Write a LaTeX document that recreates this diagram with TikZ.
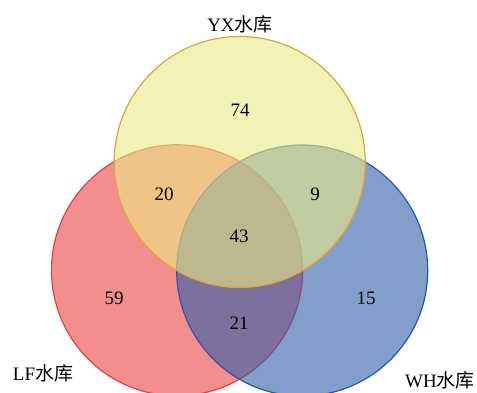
\documentclass[tikz,border=0pt]{standalone}
\usepackage{fontspec}
\setmainfont{Liberation Serif}
\newfontfamily\cjk{Noto Sans CJK SC}
\definecolor{lffill}{RGB}{235,67,67}
\definecolor{whfill}{RGB}{47,93,168}
\definecolor{yxfill}{RGB}{235,233,133}
\definecolor{lfline}{RGB}{232,62,62}
\definecolor{whline}{RGB}{43,85,168}
\definecolor{yxline}{RGB}{227,162,58}
\tikzset{
  setcirc/.style={circle, minimum size=251pt, inner sep=0pt, line width=1.2pt, fill opacity=0.6},
  num/.style={font=\fontsize{19}{21}\selectfont, inner sep=0pt},
  lab/.style={font=\fontsize{19}{21}\selectfont, inner sep=0pt}
}
\begin{document}
\begin{tikzpicture}[x=1pt,y=-1pt]
\useasboundingbox (0,0) rectangle (477,392);
\node[setcirc, draw=lfline, fill=lffill] (lf) at (177,270.3) {};
\node[setcirc, draw=whline, fill=whfill] (wh) at (302.2,270.5) {};
\node[setcirc, draw=yxline, fill=yxfill] (yx) at (239.7,162) {};
\node[num] (n74) at (240,110) {74};
\node[num] (n20) at (164,194) {20};
\node[num] (n9) at (315,194) {9};
\node[num] (n43) at (239,236) {43};
\node[num] (n59) at (114,298) {59};
\node[num] (n15) at (366,298) {15};
\node[num] (n21) at (239,323) {21};
\node[lab] (lyx) at (240,24) {YX{\cjk 水库}};
\node[lab] (llf) at (43,373) {LF{\cjk 水库}};
\node[lab] (lwh) at (440,380) {WH{\cjk 水库}};
\end{tikzpicture}
\end{document}
